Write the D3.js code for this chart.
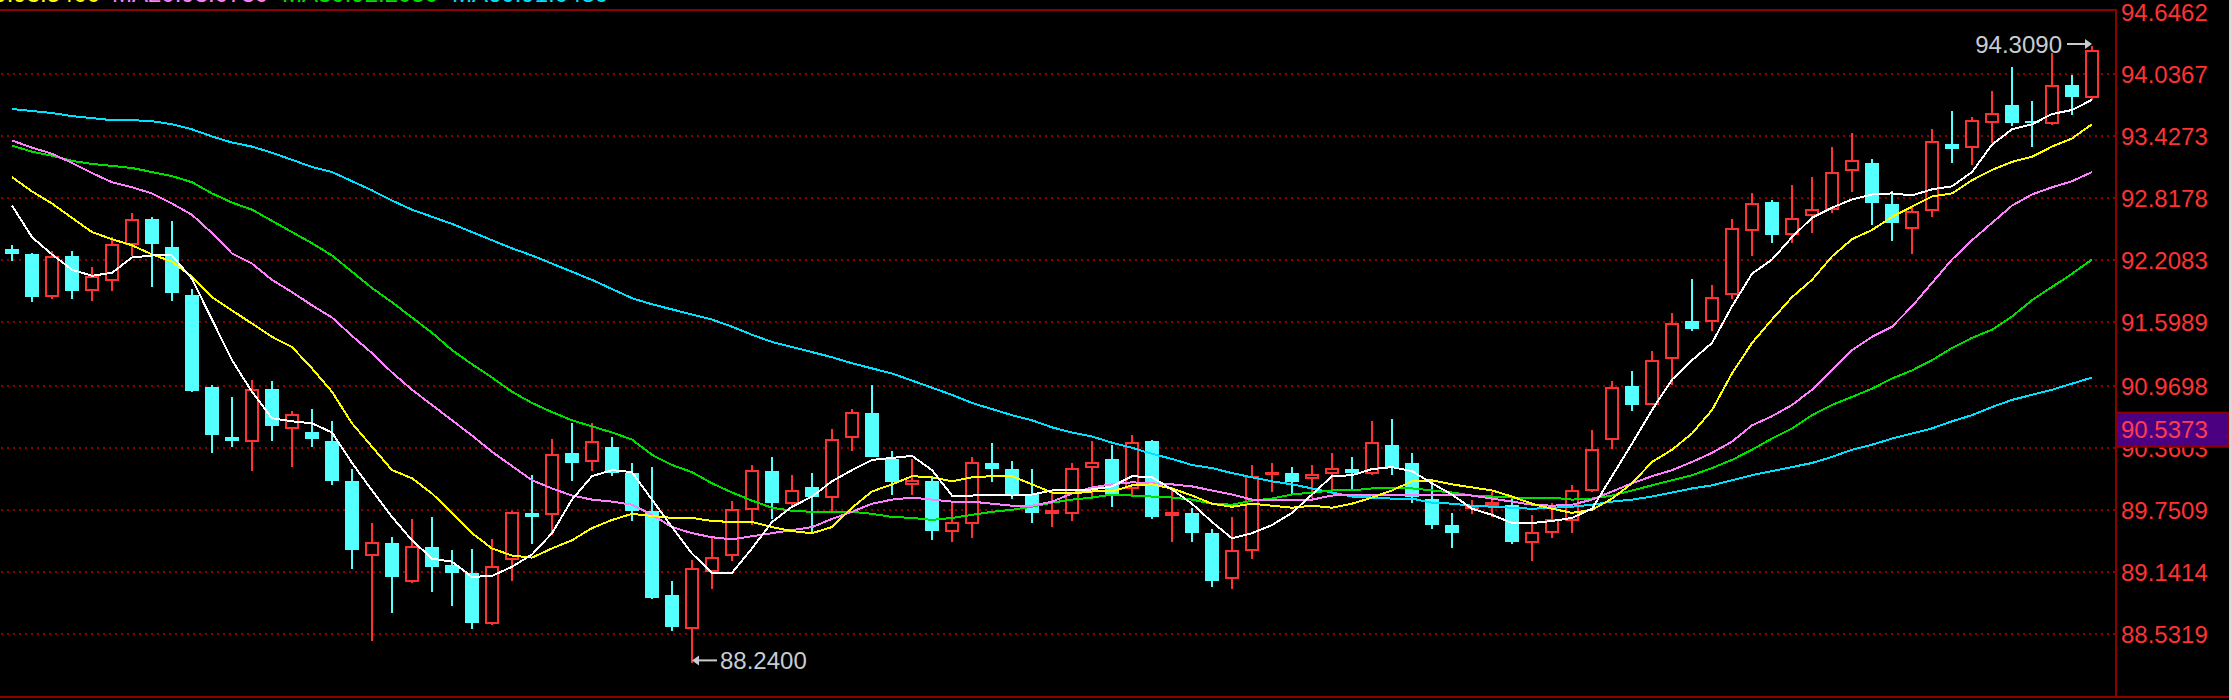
<!DOCTYPE html>
<html><head><meta charset="utf-8">
<script src="https://cdn.jsdelivr.net/npm/d3@7"></script>
<style>html,body{margin:0;padding:0;background:#000;overflow:hidden}</style>
</head><body>
<svg id="chart" width="2232" height="700"></svg>
<script>
// ---- data ----
const openP = [92.31,92.26,91.85,92.24,91.91,92.01,92.36,92.61,92.33,91.86,
90.96,90.47,90.43,90.94,90.55,90.51,90.43,90.03,89.31,89.42,
89.05,89.38,89.21,89.13,88.64,89.27,89.72,89.71,90.31,90.23,
90.37,90.11,89.74,88.91,88.59,89.15,89.31,89.76,90.13,89.82,
89.97,89.88,90.47,90.70,90.25,90.00,90.03,89.54,89.62,90.21,
90.15,89.91,89.72,89.72,90.17,90.25,89.96,90.43,89.70,89.72,
89.52,89.08,89.35,90.10,90.11,90.06,90.11,90.15,90.11,90.39,
90.21,89.86,89.60,89.77,89.80,89.80,89.43,89.53,89.65,89.94,
90.45,90.97,90.79,91.24,91.61,91.61,91.87,92.50,92.78,92.46,
92.65,92.71,93.09,93.16,92.76,92.52,92.70,93.35,93.32,93.56,
93.73,93.57,93.55,93.93,93.81];
const highP = [92.35,92.27,92.29,92.29,92.14,92.43,92.67,92.63,92.59,91.92,
90.98,90.86,91.03,91.02,90.72,90.74,90.62,90.15,89.62,89.48,
89.66,89.68,89.35,89.36,89.46,89.74,90.09,90.45,90.60,90.60,
90.47,90.21,90.17,89.05,89.26,89.48,89.84,90.19,90.27,90.09,
90.11,90.54,90.74,90.98,90.33,90.25,90.06,89.83,90.27,90.41,
90.23,90.15,89.94,90.21,90.43,90.39,90.49,90.44,89.97,89.77,
89.56,89.68,90.19,90.21,90.17,90.19,90.31,90.27,90.62,90.64,
90.31,90.03,89.72,89.85,89.92,89.86,89.70,89.82,89.99,90.53,
91.02,91.11,91.31,91.68,92.02,91.96,92.61,92.86,92.80,92.94,
93.02,93.32,93.45,93.20,92.88,92.73,93.49,93.67,93.61,93.87,
94.10,93.77,94.24,94.02,94.309];
const lowP = [92.20,91.79,91.82,91.82,91.80,91.90,92.24,91.94,91.80,90.91,
90.31,90.37,90.13,90.43,90.17,90.37,89.99,89.17,88.46,88.74,
89.03,88.94,88.80,88.58,88.62,89.05,89.41,89.50,90.03,90.13,
90.08,89.64,88.87,88.56,88.24,88.97,89.25,89.60,89.66,89.78,
89.52,89.73,90.33,90.27,89.90,89.90,89.45,89.43,89.47,90.02,
89.86,89.62,89.58,89.64,89.88,89.78,89.88,89.66,89.43,89.43,
88.99,88.97,89.27,89.92,89.91,89.87,89.91,89.94,90.09,90.09,
89.82,89.56,89.37,89.71,89.68,89.41,89.25,89.47,89.52,89.92,
90.35,90.72,90.78,90.98,91.51,91.51,91.82,92.24,92.37,92.37,
92.47,92.67,92.87,92.55,92.39,92.26,92.63,93.16,93.14,93.36,
93.52,93.32,93.53,93.63,93.78];
const closeP = [92.26,91.84,92.23,91.90,92.04,92.35,92.60,92.36,91.88,90.92,
90.49,90.43,90.93,90.57,90.68,90.45,90.03,89.35,89.42,89.09,
89.38,89.19,89.13,88.64,89.19,89.72,89.68,90.29,90.21,90.42,
90.11,89.74,88.88,88.60,89.17,89.28,89.75,90.13,89.82,89.93,
89.88,90.44,90.70,90.27,90.02,90.03,89.54,89.62,90.21,90.15,
89.91,89.72,89.74,90.15,90.21,89.91,90.41,89.68,89.72,89.52,
89.05,89.34,90.07,90.11,90.02,90.09,90.15,90.11,90.41,90.17,
89.88,89.60,89.52,89.79,89.82,89.43,89.52,89.65,89.93,90.34,
90.95,90.78,91.21,91.58,91.53,91.83,92.51,92.76,92.45,92.61,
92.70,93.06,93.18,92.77,92.57,92.68,93.37,93.30,93.57,93.64,
93.55,93.55,93.92,93.81,94.26];

const ma5 = [92.74,92.43,92.26,92.11,92.05,92.08,92.23,92.25,92.25,92.02,
91.62,91.22,90.91,90.65,90.62,90.60,90.51,90.21,89.94,89.68,
89.45,89.27,89.24,89.09,89.10,89.19,89.31,89.52,89.85,90.08,
90.14,90.12,89.85,89.58,89.32,89.13,89.13,89.37,89.63,89.78,
89.88,90.03,90.14,90.24,90.26,90.28,90.14,89.89,89.89,89.90,
89.89,89.90,89.94,89.94,89.95,89.98,90.08,90.07,89.95,89.81,
89.63,89.47,89.52,89.60,89.72,89.90,90.08,90.09,90.15,90.17,
90.13,90.01,89.90,89.76,89.70,89.62,89.62,89.64,89.67,89.76,
90.08,90.40,90.73,91.03,91.22,91.39,91.75,92.07,92.21,92.43,
92.62,92.72,92.80,92.85,92.86,92.84,92.90,92.93,93.07,93.34,
93.49,93.54,93.64,93.68,93.78];
const ma10 = [93.02,92.88,92.76,92.62,92.48,92.41,92.35,92.26,92.19,92.04,
91.84,91.71,91.58,91.45,91.35,91.14,90.91,90.60,90.37,90.14,
90.06,89.91,89.72,89.52,89.37,89.30,89.28,89.37,89.45,89.57,
89.65,89.71,89.69,89.67,89.67,89.64,89.63,89.63,89.58,89.54,
89.52,89.58,89.77,89.93,90.00,90.08,90.07,90.03,90.07,90.08,
90.08,90.00,89.92,89.91,89.93,89.93,89.99,90.00,89.96,89.89,
89.81,89.78,89.81,89.79,89.77,89.79,89.77,89.81,89.87,89.94,
90.03,90.04,90.00,89.97,89.94,89.88,89.81,89.76,89.72,89.75,
89.86,90.01,90.22,90.34,90.50,90.73,91.09,91.39,91.62,91.84,
92.01,92.24,92.41,92.50,92.63,92.73,92.83,92.86,92.99,93.09,
93.17,93.22,93.32,93.40,93.54];
const ma20 = [93.38,93.31,93.25,93.16,93.06,92.97,92.92,92.86,92.76,92.65,
92.47,92.27,92.17,92.01,91.89,91.76,91.64,91.46,91.29,91.10,
90.93,90.78,90.63,90.48,90.32,90.18,90.04,89.96,89.89,89.85,
89.83,89.80,89.70,89.58,89.52,89.48,89.46,89.49,89.52,89.55,
89.58,89.66,89.73,89.81,89.85,89.87,89.85,89.83,89.83,89.81,
89.79,89.79,89.83,89.91,89.97,90.00,90.02,90.01,90.00,89.98,
89.94,89.90,89.85,89.85,89.85,89.85,89.89,89.90,89.90,89.90,
89.90,89.90,89.90,89.89,89.86,89.83,89.80,89.79,89.80,89.85,
89.93,90.01,90.08,90.14,90.22,90.31,90.42,90.58,90.67,90.78,
90.93,91.12,91.32,91.45,91.55,91.75,91.98,92.21,92.40,92.57,
92.74,92.85,92.92,92.98,93.07];
const ma30 = [93.33,93.27,93.23,93.18,93.15,93.13,93.11,93.07,93.03,92.97,
92.86,92.77,92.70,92.59,92.48,92.37,92.25,92.09,91.93,91.79,
91.64,91.49,91.32,91.18,91.05,90.91,90.80,90.71,90.63,90.57,
90.51,90.44,90.29,90.19,90.12,90.01,89.92,89.84,89.77,89.74,
89.73,89.73,89.73,89.71,89.68,89.67,89.65,89.67,89.70,89.73,
89.75,89.78,89.82,89.85,89.87,89.90,89.89,89.88,89.87,89.85,
89.81,89.80,89.84,89.86,89.90,89.92,89.94,89.94,89.96,89.96,
89.96,89.94,89.92,89.89,89.88,89.87,89.87,89.87,89.85,89.86,
89.89,89.94,89.99,90.04,90.09,90.16,90.24,90.34,90.45,90.55,
90.68,90.78,90.86,90.94,91.04,91.12,91.22,91.34,91.44,91.52,
91.65,91.81,91.94,92.07,92.21];
const ma60 = [93.69,93.67,93.65,93.62,93.60,93.58,93.58,93.57,93.54,93.49,
93.42,93.36,93.32,93.26,93.19,93.12,93.07,92.98,92.89,92.79,
92.70,92.63,92.56,92.48,92.40,92.32,92.25,92.17,92.09,92.01,
91.92,91.83,91.77,91.72,91.67,91.62,91.55,91.47,91.40,91.35,
91.30,91.25,91.19,91.14,91.09,91.02,90.95,90.88,90.80,90.74,
90.68,90.63,90.56,90.51,90.47,90.41,90.36,90.30,90.25,90.19,
90.16,90.11,90.07,90.03,90.00,89.96,89.92,89.88,89.87,89.86,
89.86,89.82,89.81,89.79,89.78,89.77,89.76,89.77,89.78,89.80,
89.83,89.85,89.88,89.92,89.96,89.99,90.04,90.09,90.13,90.17,
90.21,90.27,90.34,90.39,90.45,90.50,90.55,90.62,90.68,90.76,
90.83,90.88,90.93,90.99,91.05];

const yTickValues = [94.6462,94.0367,93.4273,92.8178,92.2083,91.5989,90.9698,90.3603,89.7509,89.1414,88.5319];
const markerPrice = 90.5373;
const legendNames = ["MA10","MA20","MA30","MA60"];
const legendValues = [93.5400,93.0730,92.2050,91.0480];

// ---- layout / style ----
const W = 2232, H = 700, AXIS_X = 2116;
const RED = "#FF3232", CYAN = "#54FFFF", GRID = "#8B0000";
const FONT = "'Liberation Sans', Arial, sans-serif";
const maStyles = [
  {data: ma60, color: "#00E0FF"},
  {data: ma30, color: "#00E000"},
  {data: ma20, color: "#FF80FF"},
  {data: ma10, color: "#FFFF00"},
  {data: ma5,  color: "#FFFFFF"}
];
const legendColors = ["#FFFF00","#FF80FF","#00E000","#00E0FF"];

const svg = d3.select("#chart");
svg.append("rect").attr("width", W).attr("height", H).attr("fill", "#000");

const idx = d3.range(closeP.length);
const x = d3.scaleBand().domain(idx).range([2, 2102]).paddingInner(0.3).paddingOuter(0.15);
const cx = i => x(i) + x.bandwidth() / 2;
const y = d3.scaleLinear().domain([88.5319, 94.6462]).range([633.7, 11.7]);

// grid (dotted)
const grid = svg.append("g").attr("transform", `translate(${AXIS_X - 1},0)`)
  .call(d3.axisLeft(y).tickValues(yTickValues.slice(1)).tickSize(AXIS_X - 1).tickFormat(""));
grid.select(".domain").remove();
grid.selectAll(".tick line").attr("stroke", GRID).attr("stroke-width", 2)
  .attr("stroke-dasharray", "2,4").attr("shape-rendering", "crispEdges");

// candles
const g = svg.append("g").attr("shape-rendering", "crispEdges");
const up = i => closeP[i] >= openP[i];
g.selectAll("line.wick").data(idx).join("line").attr("class", "wick")
  .attr("x1", cx).attr("x2", cx)
  .attr("y1", i => y(highP[i])).attr("y2", i => y(lowP[i]))
  .attr("stroke", i => up(i) ? RED : CYAN).attr("stroke-width", 2);
g.selectAll("rect.body").data(idx).join("rect").attr("class", "body")
  .attr("x", i => up(i) ? x(i) + 1 : x(i))
  .attr("width", i => up(i) ? x.bandwidth() - 2 : x.bandwidth())
  .attr("y", i => y(Math.max(openP[i], closeP[i])))
  .attr("height", i => Math.max(1, Math.abs(y(openP[i]) - y(closeP[i]))))
  .attr("fill", i => up(i) ? "#000" : CYAN)
  .attr("stroke", i => up(i) ? RED : "none").attr("stroke-width", 2);

// moving averages
const line = d3.line().x((d, i) => cx(i)).y(d => y(d));
const lg = svg.append("g").attr("shape-rendering", "crispEdges");
maStyles.forEach(s => {
  lg.append("path").datum(s.data).attr("d", line)
    .attr("fill", "none").attr("stroke", s.color).attr("stroke-width", 2);
});

// high / low annotations
const fmt = d3.format(".4f");
const ANN = "#C8CCD0";
const hiI = d3.maxIndex(highP), loI = d3.minIndex(lowP);
const ann = svg.append("g");
{
  const xx = cx(hiI), yy = y(highP[hiI]) - 2;
  ann.append("line").attr("x1", xx - 25).attr("x2", xx - 5).attr("y1", yy).attr("y2", yy)
    .attr("stroke", ANN).attr("stroke-width", 2);
  ann.append("path").attr("d", `M${xx},${yy} L${xx - 7},${yy - 5} L${xx - 7},${yy + 5} Z`).attr("fill", ANN);
  ann.append("text").attr("x", xx - 30).attr("y", yy).attr("dy", "0.36em")
    .attr("text-anchor", "end").attr("font-family", FONT).attr("font-size", 24)
    .attr("fill", ANN).text(fmt(highP[hiI]));
}
{
  const xx = cx(loI), yy = y(lowP[loI]) - 3;
  ann.append("line").attr("x1", xx + 5).attr("x2", xx + 25).attr("y1", yy).attr("y2", yy)
    .attr("stroke", ANN).attr("stroke-width", 2);
  ann.append("path").attr("d", `M${xx},${yy} L${xx + 7},${yy - 5} L${xx + 7},${yy + 5} Z`).attr("fill", ANN);
  ann.append("text").attr("x", xx + 28).attr("y", yy).attr("dy", "0.36em")
    .attr("font-family", FONT).attr("font-size", 24)
    .attr("fill", ANN).text(fmt(lowP[loI]));
}

// axis labels
const ax = svg.append("g").attr("transform", `translate(${AXIS_X},0)`)
  .call(d3.axisRight(y).tickValues(yTickValues).tickSize(0).tickPadding(5).tickFormat(fmt));
ax.select(".domain").remove();
ax.selectAll(".tick text").attr("font-family", FONT).attr("font-size", 24)
  .attr("fill", RED).attr("dy", "0.36em");

// current price marker
const my = y(markerPrice);
svg.append("rect").attr("x", AXIS_X).attr("y", my - 17).attr("width", 2229 - AXIS_X).attr("height", 34)
  .attr("fill", "#4B0082").attr("stroke", GRID).attr("stroke-width", 2);
svg.append("text").attr("x", AXIS_X + 5).attr("y", my).attr("dy", "0.36em")
  .attr("font-family", FONT).attr("font-size", 24).attr("fill", "#FF3C50").text(fmt(markerPrice));

// frame
const fr = svg.append("g").attr("shape-rendering", "crispEdges");
fr.append("rect").attr("x", 0).attr("y", 9).attr("width", AXIS_X + 1).attr("height", 2).attr("fill", GRID);
fr.append("rect").attr("x", AXIS_X - 1).attr("y", 9).attr("width", 2).attr("height", 689).attr("fill", GRID);
fr.append("rect").attr("x", 0).attr("y", 696).attr("width", 2229).attr("height", 2).attr("fill", GRID);
fr.append("rect").attr("x", 2229).attr("y", 0).attr("width", 3).attr("height", H).attr("fill", "#D8D8D8");

// legend (cut off at the top edge)
const legX = [-56, 112, 282, 452];
legendNames.forEach((n, k) => {
  svg.append("text").attr("x", legX[k]).attr("y", 2)
    .attr("font-family", FONT).attr("font-size", 24).attr("fill", legendColors[k])
    .text(n + ":" + fmt(legendValues[k]));
});
</script>
</body></html>
